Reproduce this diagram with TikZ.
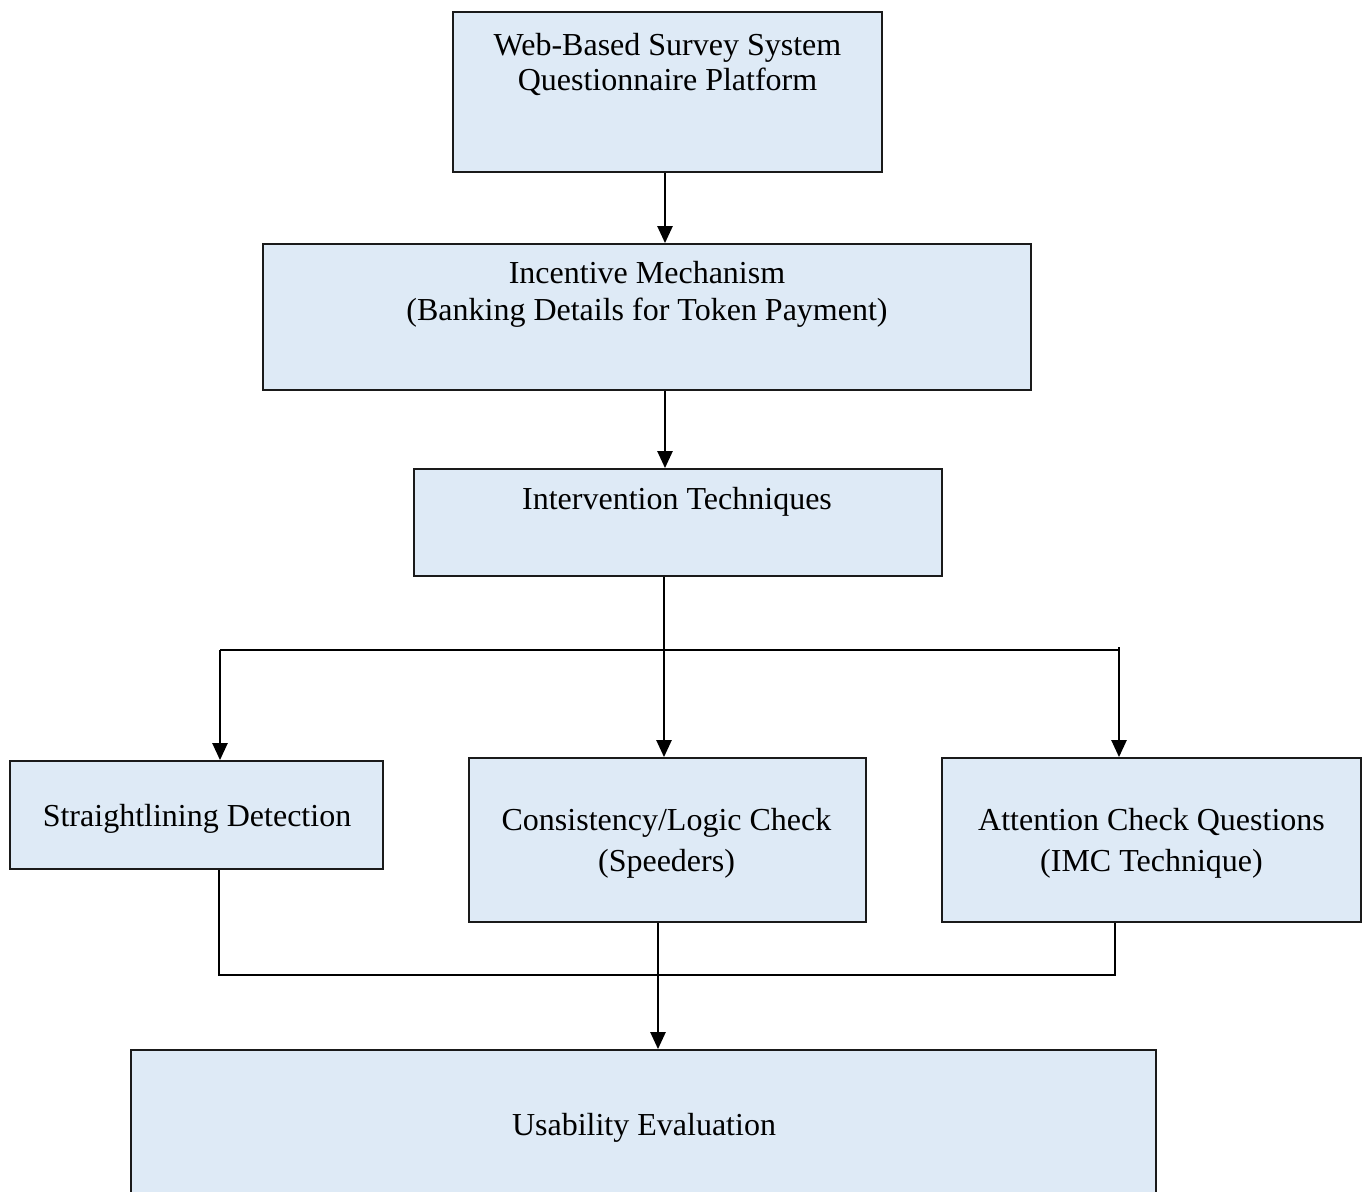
\documentclass[tikz,border=0pt]{standalone}
\usepackage{fontspec}
\setmainfont{Liberation Serif}
\usetikzlibrary{arrows.meta}
\definecolor{boxfill}{HTML}{DEEAF6}
\definecolor{boxline}{HTML}{1A1A1A}
\tikzset{
  box/.style={rectangle, draw=boxline, fill=boxfill, line width=1.8pt, inner sep=0pt},
  txt/.style={anchor=base, inner sep=0pt, font=\fontsize{32}{38}\selectfont},
  arr/.style={line width=2.4pt, -{Triangle[width=15pt,length=17pt]}},
  thin/.style={line width=1.3pt}
}
\begin{document}
\begin{tikzpicture}[x=1pt,y=-1pt]
\useasboundingbox (0,0) rectangle (1362,1191);
\fill[white] (0,0) rectangle (1362,1191);

% boxes
\node[box, minimum width=429pt, minimum height=160pt] (web) at (667.5,92) {};
\node[box, minimum width=768pt, minimum height=146pt] (inc) at (647,317) {};
\node[box, minimum width=528pt, minimum height=107pt] (int) at (678,522.5) {};
\node[box, minimum width=373pt, minimum height=108pt] (str) at (196.5,815) {};
\node[box, minimum width=397pt, minimum height=164pt] (con) at (667.5,840) {};
\node[box, minimum width=419pt, minimum height=164pt] (att) at (1151.5,840) {};
\node[box, minimum width=1025pt, minimum height=180pt] (usa) at (643.5,1140) {};

% texts
\node[txt] (webA) at (667.5,55) {Web-Based Survey System};
\node[txt] (webB) at (667.5,90) {Questionnaire Platform};
\node[txt] (incA) at (647,283) {Incentive Mechanism};
\node[txt] (incB) at (647,320) {(Banking Details for Token Payment)};
\node[txt] (intA) at (677,509) {Intervention Techniques};
\node[txt] (strA) at (197,826) {Straightlining Detection};
\node[txt] (conA) at (666.5,830) {Consistency/Logic Check};
\node[txt] (conB) at (666.5,871) {(Speeders)};
\node[txt] (attA) at (1151.5,830) {Attention Check Questions};
\node[txt] (attB) at (1151.5,871) {(IMC Technique)};
\node[txt] (usaA) at (644,1135) {Usability Evaluation};

% helper coordinates
\coordinate (spine) at (665,0);
\coordinate (spineB) at (664,0);
\coordinate (bl) at (220,650);
\coordinate (br) at (1119,650);
\coordinate (brt) at (1119,647);
\coordinate (jl) at (219,975);
\coordinate (jr) at (1115,975);
\coordinate (jc) at (658,0);

% connectors
\draw[arr] (web.south -| spine) -- (inc.north -| spine);
\draw[arr] (inc.south -| spine) -- (int.north -| spine);
\draw[thin] (bl) -- (br);
\draw[arr] (int.south -| spineB) -- (con.north -| spineB);
\draw[arr] (bl) -- (str.north -| bl);
\draw[arr] (brt) -- (att.north -| brt);
\draw[thin] (str.south -| jl) -- (jl) -- (jr) -- (att.south -| jr);
\draw[arr] (con.south -| jc) -- (usa.north -| jc);
\end{tikzpicture}
\end{document}
